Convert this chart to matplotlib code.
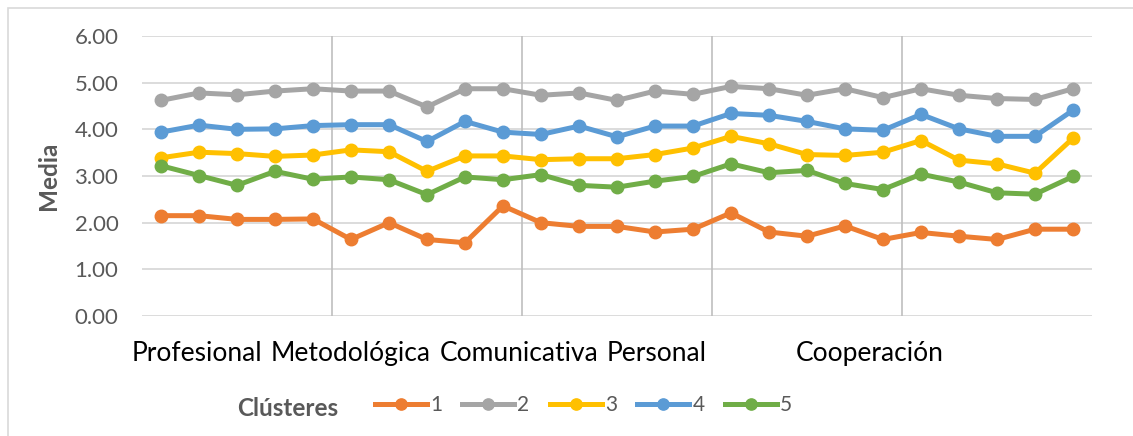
import numpy as np
import matplotlib.pyplot as plt
from matplotlib.patches import Rectangle

# Media por ítem y clúster (25 ítems, 5 dimensiones de 5 ítems)
cluster_1 = [2.15, 2.15, 2.07, 2.07, 2.08, 1.64, 2.00, 1.64, 1.57, 2.36,
             2.00, 1.92, 1.92, 1.80, 1.86, 2.21, 1.80, 1.71, 1.93, 1.64,
             1.79, 1.71, 1.64, 1.86, 1.86]
cluster_2 = [4.62, 4.78, 4.74, 4.82, 4.87, 4.82, 4.82, 4.48, 4.87, 4.87,
             4.73, 4.78, 4.62, 4.82, 4.75, 4.92, 4.87, 4.73, 4.87, 4.68,
             4.87, 4.73, 4.66, 4.64, 4.87]
cluster_3 = [3.39, 3.51, 3.48, 3.42, 3.45, 3.56, 3.52, 3.10, 3.43, 3.43,
             3.35, 3.37, 3.37, 3.46, 3.60, 3.85, 3.69, 3.46, 3.44, 3.51,
             3.76, 3.34, 3.26, 3.06, 3.81]
cluster_4 = [3.94, 4.09, 4.00, 4.01, 4.08, 4.10, 4.10, 3.74, 4.17, 3.94,
             3.89, 4.07, 3.84, 4.07, 4.07, 4.34, 4.30, 4.17, 4.01, 3.98,
             4.32, 4.01, 3.85, 3.85, 4.41]
cluster_5 = [3.22, 3.01, 2.80, 3.10, 2.93, 2.98, 2.92, 2.60, 2.98, 2.92,
             3.03, 2.80, 2.76, 2.89, 2.99, 3.26, 3.07, 3.12, 2.84, 2.71,
             3.04, 2.87, 2.64, 2.61, 2.99]

series = [cluster_1, cluster_2, cluster_3, cluster_4, cluster_5]
series_names = ["1", "2", "3", "4", "5"]
colors = ["#ED7D31", "#A5A5A5", "#FFC000", "#5B9BD5", "#70AD47"]

dimensions = ["Profesional", "Metodológica", "Comunicativa", "Personal", "Cooperación"]
dimension_label_pos = [0.95, 5.0, 9.42, 13.05, 18.66]
dimension_breaks = [4.5, 9.5, 14.5, 19.5]

plt.rcParams['font.family'] = ['Lato', 'DejaVu Sans']

fig = plt.figure(figsize=(11.33, 4.36), dpi=100)
ax = fig.add_axes([142 / 1133, 1 - 316 / 436, 950 / 1133, 280 / 436])

# outer chart border (only top and left visible in the original)
fig.patches.append(Rectangle((8 / 1133, -0.1), 1.2, 1 - 8 / 436 + 0.1,
                             transform=fig.transFigure, fill=False,
                             edgecolor="#D9D9D9", linewidth=1.2))

x = np.arange(len(cluster_1))
for vals, name, c in zip(series, series_names, colors):
    ax.plot(x, vals, color=c, linewidth=3.6, marker='o', markersize=9,
            label=name, zorder=3)

for b in dimension_breaks:
    ax.axvline(b, color="#BFBFBF", linewidth=1.2, zorder=1)

ax.set_xlim(-0.5, 24.5)
ax.set_ylim(0, 6)
ax.set_yticks(np.arange(0, 7, 1))
ax.set_yticklabels([f"{v:.2f}" for v in np.arange(0, 7, 1)])
ax.yaxis.grid(True, color="#D9D9D9", linewidth=1.3, zorder=0)
ax.set_axisbelow(True)
ax.tick_params(axis='y', length=0, pad=17, labelsize=16, labelcolor="#595959")

ax.set_xticks(dimension_label_pos)
ax.set_xticklabels(dimensions)
ax.tick_params(axis='x', length=0, pad=18, labelsize=19, labelcolor="#000000")

for s in ax.spines.values():
    s.set_visible(False)

ax.set_ylabel("Media", fontsize=17.5, fontweight='bold', color="#595959", labelpad=10)

fig.text(237 / 1133, 1 - 408 / 436, "Clústeres", fontsize=17.5, fontweight='bold',
         color="#595959", ha='left', va='center')
fig.legend(loc='center left', bbox_to_anchor=(356 / 1133, 1 - 405 / 436),
           ncol=5, frameon=False, fontsize=15, handlelength=2.5,
           handletextpad=0.15, columnspacing=0.97, labelcolor="#595959",
           markerscale=0.9)

fig.savefig("out.png", dpi=100)
